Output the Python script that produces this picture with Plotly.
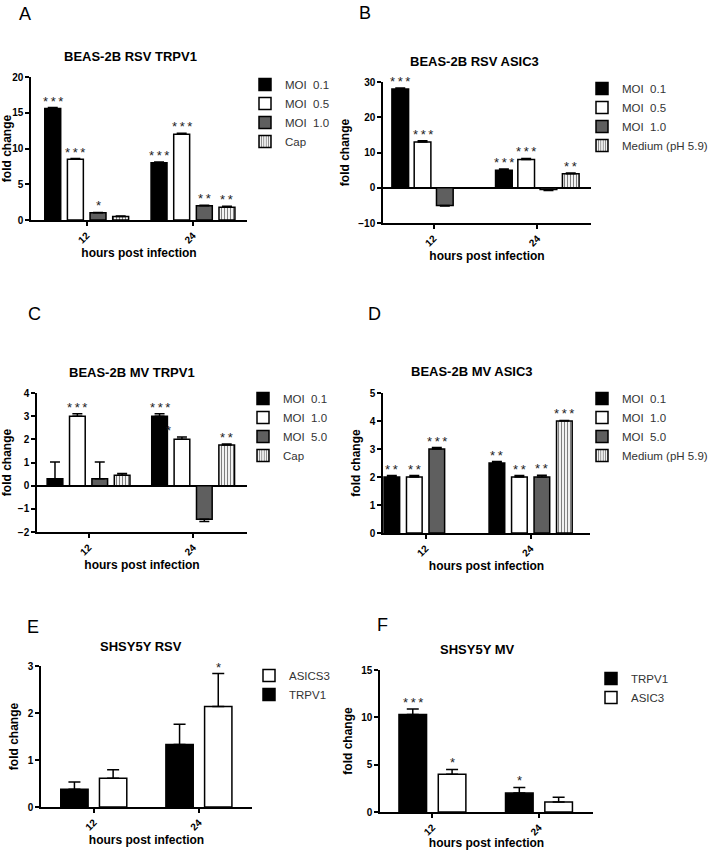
import plotly.graph_objects as go

W, H = 713, 850
FONT = "Liberation Sans, Arial, sans-serif"
NB = "\u00a0"

hours = ["12", "24"]

# ---------------- data ----------------
# A: BEAS-2B RSV TRPV1
a_names = ["MOI" + NB + " 0.1", "MOI" + NB + " 0.5", "MOI" + NB + " 1.0", "Cap"]
a_vals = [[15.6, 8.0], [8.5, 12.0], [1.0, 2.0], [0.5, 1.8]]
a_err = [[0.12, 0.1], [0.1, 0.12], [0.06, 0.08], [0.06, 0.12]]
a_stars = [["***", "***"], ["***", "***"], ["*", "**"], ["", "**"]]

# B: BEAS-2B RSV ASIC3
b_names = ["MOI" + NB + " 0.1", "MOI" + NB + " 0.5", "MOI" + NB + " 1.0", "Medium (pH 5.9)"]
b_vals = [[28.0, 5.0], [13.0, 8.0], [-5.0, -0.5], [None, 4.0]]
b_err = [[0.3, 0.3], [0.3, 0.3], [0.2, 0.3], [0.0, 0.2]]
b_stars = [["***", "***"], ["***", "***"], ["", ""], ["", "**"]]

# C: BEAS-2B MV TRPV1
c_names = ["MOI" + NB + " 0.1", "MOI" + NB + " 1.0", "MOI" + NB + " 5.0", "Cap"]
c_vals = [[0.3, 3.0], [3.0, 2.0], [0.3, -1.45], [0.45, 1.75]]
c_err = [[0.72, 0.1], [0.1, 0.1], [0.72, 0.1], [0.07, 0.05]]
c_stars = [["", "***"], ["***", "*"], ["", ""], ["", "**"]]

# D: BEAS-2B MV ASIC3
d_names = ["MOI" + NB + " 0.1", "MOI" + NB + " 1.0", "MOI" + NB + " 5.0", "Medium (pH 5.9)"]
d_vals = [[2.0, 2.5], [2.0, 2.0], [3.0, 2.0], [None, 4.0]]
d_err = [[0.05, 0.05], [0.05, 0.05], [0.05, 0.06], [0.0, 0.02]]
d_stars = [["**", "**"], ["**", "**"], ["***", "**"], ["", "***"]]

# E: SHSY5Y RSV
e_names = ["TRPV1", "ASICS3"]
e_vals = [[0.38, 1.33], [0.61, 2.14]]
e_err = [[0.15, 0.43], [0.18, 0.70]]
e_stars = [["", ""], ["", "*"]]

# F: SHSY5Y MV
f_names = ["TRPV1", "ASIC3"]
f_vals = [[10.3, 2.0], [4.0, 1.05]]
f_err = [[0.57, 0.6], [0.5, 0.5]]
f_stars = [["***", "*"], ["*", ""]]

# ---------------- styling / layout ----------------
GRAY = "#5f5f5f"
fills4 = ["black", "white", GRAY, "pattern"]
fills2 = ["black", "white"]


def fx(px):
    return px / W


def fy(py):
    return 1 - py / H


panels = [
    dict(letter="A", title="BEAS-2B RSV TRPV1", names=a_names, vals=a_vals, err=a_err, stars=a_stars,
         fills=fills4, ax=(31, 247), ay=(77, 220), xr=(-0.524, 1.508), yr=(0, 20), dt=5,
         bw=0.15, pitch=0.213, cap=5, lpos=(25, 2), tpos=(130, 56), leg=(245, 70), right=False,
         zl=False, reverse=False),
    dict(letter="B", title="BEAS-2B RSV ASIC3", names=b_names, vals=b_vals, err=b_err, stars=b_stars,
         fills=fills4, ax=(383, 591), ay=(82, 223), xr=(-0.489, 1.518), yr=(-10, 30), dt=10,
         bw=0.161, pitch=0.215, cap=5, lpos=(365, 1), tpos=(475, 61), leg=(713, 74), right=True,
         zl=True, reverse=False),
    dict(letter="C", title="BEAS-2B MV TRPV1", names=c_names, vals=c_vals, err=c_err, stars=c_stars,
         fills=fills4, ax=(37, 247), ay=(393, 532), xr=(-0.493, 1.515), yr=(-2, 4), dt=1,
         bw=0.15, pitch=0.214, cap=5, lpos=(34, 302), tpos=(132, 372), leg=(243, 384), right=False,
         zl=True, reverse=False),
    dict(letter="D", title="BEAS-2B MV ASIC3", names=d_names, vals=d_vals, err=d_err, stars=d_stars,
         fills=fills4, ax=(383, 590), ay=(393, 533), xr=(-0.405, 1.565), yr=(0, 5), dt=1,
         bw=0.149, pitch=0.214, cap=5, lpos=(375, 302), tpos=(472, 371), leg=(713, 384), right=True,
         zl=False, reverse=False),
    dict(letter="E", title="SHSY5Y RSV", names=e_names, vals=e_vals, err=e_err, stars=e_stars,
         fills=fills2, ax=(41, 252), ay=(666, 807), xr=(-0.502, 1.505), yr=(0, 3), dt=1,
         bw=0.26, pitch=0.368, cap=6, lpos=(33, 615), tpos=(141, 646), leg=(249, 661), right=False,
         zl=False, reverse=True),
    dict(letter="F", title="SHSY5Y MV", names=f_names, vals=f_vals, err=f_err, stars=f_stars,
         fills=fills2, ax=(380, 593), ay=(670, 812), xr=(-0.492, 1.507), yr=(0, 15), dt=5,
         bw=0.259, pitch=0.369, cap=6, lpos=(383, 613), tpos=(477, 649), leg=(591, 664), right=False,
         zl=False, reverse=False),
]

fig = go.Figure()
annotations = []
layout = {}

for k, p in enumerate(panels):
    n = k + 1
    xa = "x" if n == 1 else f"x{n}"
    ya = "y" if n == 1 else f"y{n}"
    legname = "legend" if n == 1 else f"legend{n}"
    ns = len(p["names"])
    for i, name in enumerate(p["names"]):
        center = (i - (ns - 1) / 2) * p["pitch"]
        vals = p["vals"][i]
        errs = p["err"][i]
        plus = [(e if (v is not None and v >= 0) else 0) for v, e in zip(vals, errs)]
        minus = [(e if (v is not None and v < 0) else 0) for v, e in zip(vals, errs)]
        fill = p["fills"][i]
        if fill == "pattern":
            marker = dict(color="white", line=dict(color="black", width=1.5),
                          pattern=dict(shape="|", fgcolor="black", bgcolor="white",
                                       size=3, solidity=0.4))
        else:
            marker = dict(color=fill, line=dict(color="black", width=1.5))
        fig.add_trace(go.Bar(
            x=hours, y=vals, name=name, xaxis=xa, yaxis=ya, legend=legname,
            offset=center - p["bw"] / 2, width=p["bw"], marker=marker,
            error_y=dict(type="data", symmetric=False, array=plus, arrayminus=minus,
                         color="black", thickness=1.5, width=p["cap"]),
            showlegend=True,
        ))
        for j, s in enumerate(p["stars"][i]):
            if not s or vals[j] is None:
                continue
            xshift = -13 if (p["letter"] == "C" and i == 1 and j == 1) else 0
            annotations.append(dict(
                x=j + center, y=vals[j] + errs[j], xref=xa, yref=ya,
                text="\u2009".join(s), showarrow=False, xanchor="center", yanchor="bottom",
                yshift=-3, xshift=xshift, font=dict(family=FONT, size=13, color="#222222"),
            ))

    axis_common = dict(showline=True, linecolor="black", linewidth=1.5, ticks="outside",
                       ticklen=4, tickwidth=1.5, tickcolor="black", showgrid=False,
                       automargin=False,
                       tickfont=dict(family=FONT, size=10, color="black", weight="bold"))
    layout["xaxis" if n == 1 else f"xaxis{n}"] = dict(
        axis_common, domain=[fx(p["ax"][0]), fx(p["ax"][1])], anchor=ya,
        type="category", categoryorder="array", categoryarray=hours,
        range=list(p["xr"]), tickangle=-45, zeroline=False,
        title=dict(text="hours post infection", standoff=0,
                   font=dict(family=FONT, size=12, color="black", weight="bold")),
    )
    layout["yaxis" if n == 1 else f"yaxis{n}"] = dict(
        axis_common, domain=[fy(p["ay"][1]), fy(p["ay"][0])], anchor=xa,
        range=list(p["yr"]), dtick=p["dt"], tick0=0,
        zeroline=p["zl"], zerolinecolor="black", zerolinewidth=1.5,
        title=dict(text="fold change", standoff=6,
                   font=dict(family=FONT, size=12, color="black", weight="bold")),
    )
    layout[legname] = dict(
        x=fx(p["leg"][0]), y=fy(p["leg"][1]), xanchor="right" if p["right"] else "left",
        yanchor="top", bgcolor="rgba(0,0,0,0)", tracegroupgap=0,
        traceorder="reversed" if p["reverse"] else "normal",
        font=dict(family=FONT, size=11.5, color="#333333"),
    )
    annotations.append(dict(
        x=fx(p["lpos"][0]), y=fy(p["lpos"][1]), xref="paper", yref="paper",
        text=p["letter"], showarrow=False, xanchor="center", yanchor="top",
        font=dict(family=FONT, size=18, color="black"),
    ))
    annotations.append(dict(
        x=fx(p["tpos"][0]), y=fy(p["tpos"][1]), xref="paper", yref="paper",
        text=p["title"], showarrow=False, xanchor="center", yanchor="middle",
        font=dict(family=FONT, size=13, color="black", weight="bold"),
    ))

fig.update_layout(
    width=W, height=H, margin=dict(l=0, r=0, t=0, b=0, pad=0, autoexpand=False),
    paper_bgcolor="white", plot_bgcolor="white", barmode="overlay",
    annotations=annotations, font=dict(family=FONT),
    **layout,
)

# remove the browser's default 8px page margin so the figure fills the window exactly
fig.write_html(
    "out.html",
    config={"displayModeBar": False},
    post_script="document.body.style.margin='0';document.documentElement.style.overflow='hidden';",
)
